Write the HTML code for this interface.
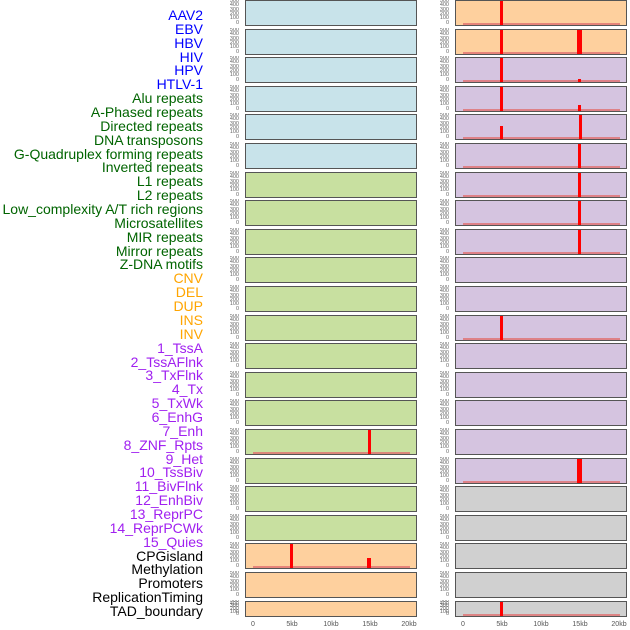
<!DOCTYPE html>
<html><head><meta charset="utf-8"><style>
body{margin:0;width:630px;height:630px;background:#fff;position:relative;overflow:hidden;font-family:"Liberation Sans",sans-serif}
.l{position:absolute;right:427px;font-size:14px;line-height:14px;white-space:nowrap}
.p{position:absolute;border:1px solid #555;box-sizing:border-box}
.t{position:absolute;font-size:5.5px;color:#666;text-align:right;width:30px;line-height:5px}
.r{position:absolute;background:#f00}
.b{position:absolute;height:2px;background:#e07070;opacity:0.8}
.x{position:absolute;top:621px;font-size:7px;color:#555;transform:translateX(-50%)}
</style></head><body>
<div id="c"></div>
<script>
var labs=[["AAV2","#00f"],["EBV","#00f"],["HBV","#00f"],["HIV","#00f"],["HPV","#00f"],["HTLV-1","#00f"],
["Alu repeats","#006400"],["A-Phased repeats","#006400"],["Directed repeats","#006400"],["DNA transposons","#006400"],["G-Quadruplex forming repeats","#006400"],["Inverted repeats","#006400"],["L1 repeats","#006400"],["L2 repeats","#006400"],["Low_complexity A/T rich regions","#006400"],["Microsatellites","#006400"],["MIR repeats","#006400"],["Mirror repeats","#006400"],["Z-DNA motifs","#006400"],
["CNV","#ffa500"],["DEL","#ffa500"],["DUP","#ffa500"],["INS","#ffa500"],["INV","#ffa500"],
["1_TssA","#a020f0"],["2_TssAFlnk","#a020f0"],["3_TxFlnk","#a020f0"],["4_Tx","#a020f0"],["5_TxWk","#a020f0"],["6_EnhG","#a020f0"],["7_Enh","#a020f0"],["8_ZNF_Rpts","#a020f0"],["9_Het","#a020f0"],["10_TssBiv","#a020f0"],["11_BivFlnk","#a020f0"],["12_EnhBiv","#a020f0"],["13_ReprPC","#a020f0"],["14_ReprPCWk","#a020f0"],["15_Quies","#a020f0"],
["CPGisland","#000"],["Methylation","#000"],["Promoters","#000"],["ReplicationTiming","#000"],["TAD_boundary","#000"]];
var h="";
labs.forEach(function(a,i){h+='<div class="l" style="top:'+(8+i*13.86)+'px;color:'+a[1]+'">'+a[0]+'</div>';});
var B="#c8e3ea",G="#c8e0a0",O="#fed09e",P="#d5c4e0",Y="#d0d0d0";
function rt(i){return Math.round(i*28.6);}
for(var i=0;i<22;i++){
 var tp=rt(i), hh=(i==21?16:26);
 var lc=i<6?B:(i<19?G:O), rc=i<2?O:(i<17?P:Y);
 h+='<div class="p" style="left:245px;top:'+tp+'px;width:172px;height:'+hh+'px;background:'+lc+'"></div>';
 h+='<div class="p" style="left:455px;top:'+tp+'px;width:172px;height:'+hh+'px;background:'+rc+'"></div>';
 var tk="500<br>400<br>300<br>200<br>100<br>0";
 h+='<div class="t" style="left:209px;top:'+(tp-1)+'px;height:'+hh+'px;overflow:hidden;line-height:'+(hh/6)+'px">'+tk+'</div>';
 h+='<div class="t" style="left:419px;top:'+(tp-1)+'px;height:'+hh+'px;overflow:hidden;line-height:'+(hh/6)+'px">'+tk+'</div>';
}
function bar(x,y1,y2,w){h+='<div class="r" style="left:'+(x-(w||3)/2)+'px;top:'+y1+'px;width:'+(w||3)+'px;height:'+(y2-y1)+'px"></div>';}
function base(x,y){h+='<div class="b" style="left:'+x+'px;top:'+y+'px;width:157px"></div>';}
var R=[[0,[[501,0]]],[1,[[501,0],[579,0,5]]],[2,[[501,0],[579,21]]],[3,[[501,0],[579,18]]],[4,[[501,11],[580,0]]],[5,[[579,0]]],[6,[[579,0]]],[7,[[579,0]]],[8,[[579,0]]],[11,[[501,0]]],[16,[[579,0,5]]],[21,[[501,0]]]];
R.forEach(function(r){var tp=rt(r[0]),hh=r[0]==21?16:26;base(463,tp+hh-3);r[1].forEach(function(b){bar(b[0],tp+1+b[1],tp+hh-1,b[2]);});});
var t15=rt(15);base(253,t15+23);bar(369,t15+1,t15+25);
var t19=rt(19);base(253,t19+23);bar(291,t19+1,t19+25);bar(369,t19+15,t19+25,4);
[[253,"0"],[292,"5kb"],[331,"10kb"],[370,"15kb"],[409,"20kb"],[463,"0"],[502,"5kb"],[541,"10kb"],[580,"15kb"],[619,"20kb"]].forEach(function(a){h+='<div class="x" style="left:'+a[0]+'px">'+a[1]+'</div>';});
document.getElementById("c").innerHTML=h;
</script>
</body></html>
